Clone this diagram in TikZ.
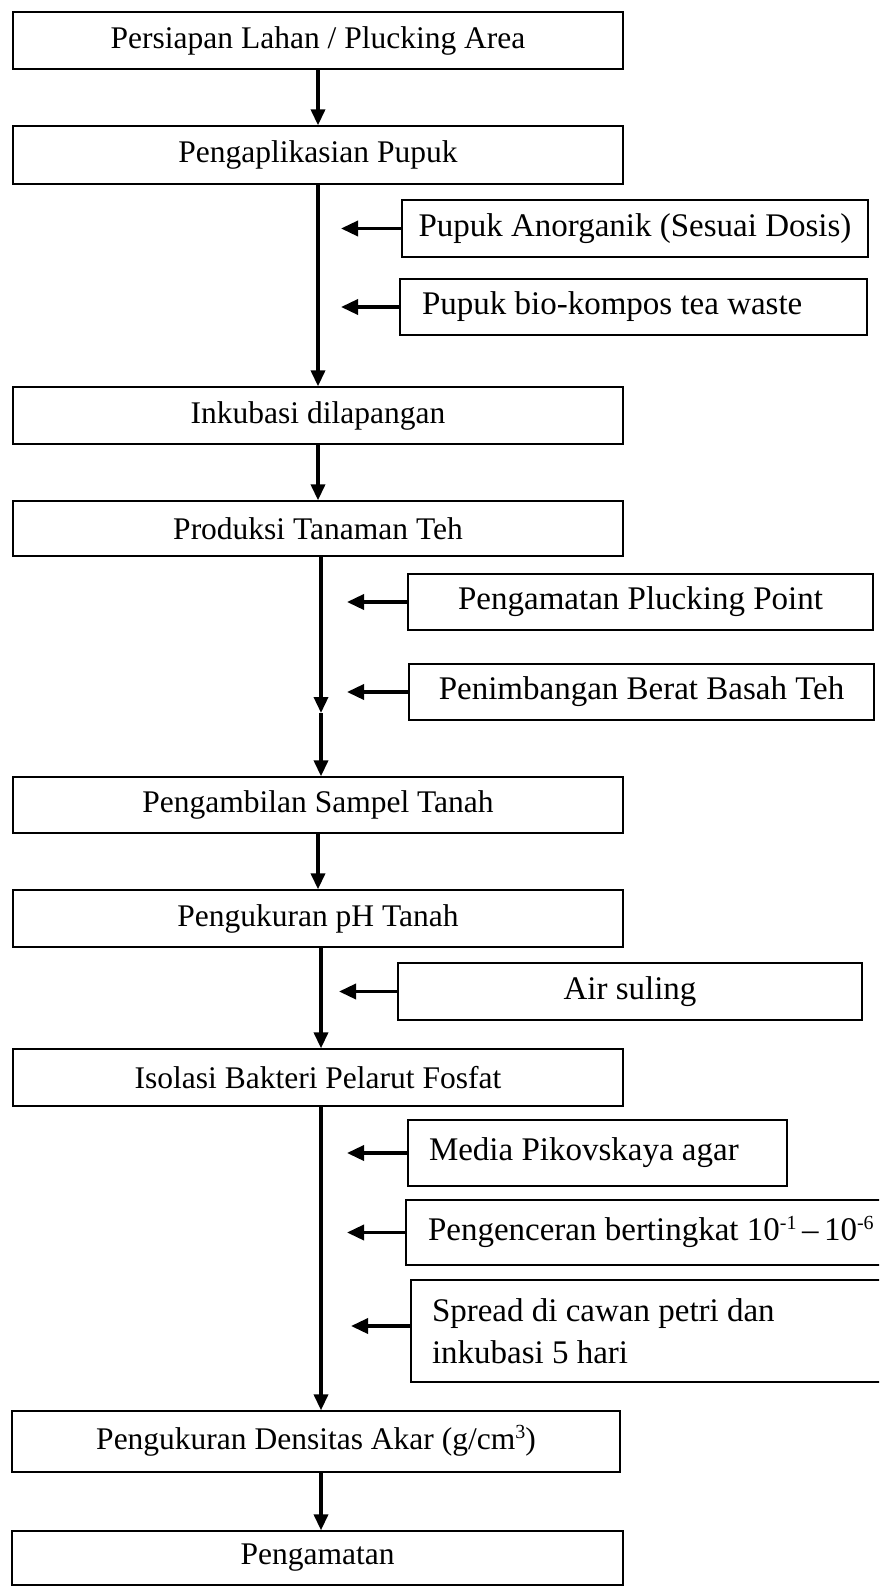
\documentclass[tikz,border=0pt]{standalone}
\usepackage{fontspec}
\setmainfont{Liberation Serif}
\usetikzlibrary{arrows.meta}
\newcommand{\nsp}{\spaceskip=0pt\xspaceskip=0pt\relax}
\newcommand{\supx}[1]{\smash{\raisebox{0.32em}{\fontsize{20}{20}\selectfont #1}}}
\tikzset{
  mainbox/.style={draw, line width=1.3pt, inner sep=0pt, minimum width=610pt, font=\fontsize{31.5}{38}\selectfont},
  sidebox/.style={draw, line width=1.3pt, inner sep=0pt, font=\fontsize{33}{42}\selectfont},
  arr/.style={line width=3.5pt, -{Triangle[length=16pt,width=14pt]}},
  sarr/.style={line width=3.5pt, -{Triangle[length=17pt,width=15pt]}}
}
\begin{document}
\begin{tikzpicture}[x=1pt,y=-1pt]
\useasboundingbox (0,0) rectangle (879,1586);
\clip (0,0) rectangle (879,1586);
% main boxes
\node[mainbox, minimum height=57pt] (b1) at (318,40.5) {Persiapan Lahan / Plucking Area};
\node[mainbox, minimum height=58pt] (b2) at (318,155) {Pengaplikasian Pupuk};
\node[mainbox, minimum height=57pt] (b3) at (318,415.5) {Inkubasi dilapangan};
\node[mainbox, minimum height=55pt] (b4) at (318,528.5) {Produksi Tanaman Teh};
\node[mainbox, minimum height=56pt] (b5) at (318,805) {Pengambilan Sampel Tanah};
\node[mainbox, minimum height=57pt] (b6) at (318,918.5) {Pengukuran pH Tanah};
\node[mainbox, minimum height=57pt] (b7) at (318,1077.5) {Isolasi Bakteri Pelarut Fosfat};
\node[mainbox, minimum width=608pt, minimum height=61pt] (b8) at (316,1441.5) {Pengukuran Densitas Akar (g/cm\supx{3})};
\node[mainbox, minimum width=611pt, minimum height=54pt] (b9) at (317.5,1558) {Pengamatan};
% side boxes
\node[sidebox, minimum width=466pt, minimum height=57pt] (s1) at (635,228.5) {Pupuk Anorganik (Sesuai Dosis)};
\node[sidebox, minimum width=467pt, minimum height=56pt, inner xsep=22pt, text width=423pt, align=left] (s2) at (633.5,307) {\nsp Pupuk bio-kompos tea waste};
\node[sidebox, minimum width=465pt, minimum height=56pt] (s3) at (640.5,602) {Pengamatan Plucking Point};
\node[sidebox, minimum width=465pt, minimum height=56pt] (s4) at (641.5,692) {Penimbangan Berat Basah Teh};
\node[sidebox, minimum width=464pt, minimum height=57pt] (s5) at (630,991.5) {Air suling};
\node[sidebox, minimum width=379pt, minimum height=66pt, inner xsep=21pt, text width=337pt, align=left] (s6) at (597.5,1153) {\nsp Media Pikovskaya agar};
\node[sidebox, minimum width=520pt, minimum height=65pt, inner xsep=22pt, text width=476pt, align=left] (s7) at (666,1232.5) {\nsp Pengenceran bertingkat 10\supx{-1}\,--\,10\supx{-6}};
\node[sidebox, minimum width=520pt, minimum height=102pt, inner xsep=21pt, text width=478pt, align=left] (s8) at (671,1331) {\nsp Spread di cawan petri dan\\inkubasi 5 hari};
% free ends
\coordinate (t1) at (341,228.5);
\coordinate (t2) at (341,307);
\coordinate (t3) at (347,602);
\coordinate (t4) at (347,692);
\coordinate (t5) at (339,991.5);
\coordinate (t6) at (347,1153);
\coordinate (t7) at (347,1232.5);
\coordinate (t8) at (351,1326);
\coordinate (m1) at (321,713);
% vertical arrows
\draw[arr] (b1.south) -- (b2.north);
\draw[arr] (b2.south) -- (b3.north);
\draw[arr] (b3.south) -- (b4.north);
\draw[arr] ([xshift=3pt]b4.south) -- (m1);
\draw[arr] (m1) -- ([xshift=3pt]b5.north);
\draw[arr] (b5.south) -- (b6.north);
\draw[arr] ([xshift=3pt]b6.south) -- ([xshift=3pt]b7.north);
\draw[arr] ([xshift=3pt]b7.south) -- ([xshift=5pt]b8.north);
\draw[arr] ([xshift=5pt]b8.south) -- ([xshift=3.5pt]b9.north);
% side arrows
\draw[sarr] (s1.west) -- (t1);
\draw[sarr] (s2.west) -- (t2);
\draw[sarr] (s3.west) -- (t3);
\draw[sarr] (s4.west) -- (t4);
\draw[sarr] (s5.west) -- (t5);
\draw[sarr] (s6.west) -- (t6);
\draw[sarr] (s7.west) -- (t7);
\draw[sarr] (s8.west |- t8) -- (t8);
\end{tikzpicture}
\end{document}
